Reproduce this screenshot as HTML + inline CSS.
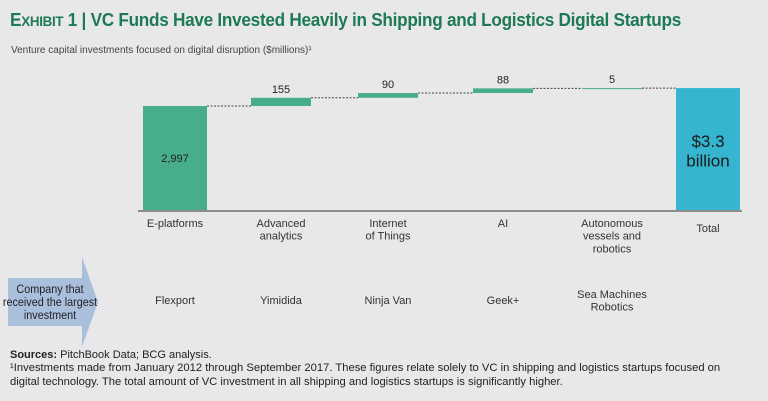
<!DOCTYPE html>
<html><head><meta charset="utf-8"><style>
body{margin:0;background:#e8e8ea;font-family:"Liberation Sans",sans-serif;}
#wrap{position:relative;width:768px;height:401px;overflow:hidden;background:#e8e8ea;}
.t{position:absolute;white-space:nowrap;color:#333;}
</style></head><body>
<div id="wrap">
<div class="t" style="left:10px;top:10px;font-size:18px;font-weight:bold;color:#1e7a55;letter-spacing:-0.3px;transform:scaleX(0.955);transform-origin:left top">E<span style="font-size:14px">XHIBIT</span> 1 | VC Funds Have Invested Heavily in Shipping and Logistics Digital Startups</div>
<div class="t" style="left:11px;top:45px;font-size:10px;color:#444">Venture capital investments focused on digital disruption ($millions)¹</div>
<svg id="chart" width="768" height="401" style="position:absolute;left:0;top:0"></svg>
<div class="t" style="left:10px;top:349px;font-size:11px;color:#222"><b>Sources:</b> PitchBook Data; BCG analysis.</div>
<div class="t" style="left:10px;top:362px;font-size:11px;color:#222;line-height:13.5px;transform:scaleX(1.02);transform-origin:left top">¹Investments made from January 2012 through September 2017. These figures relate solely to VC in shipping and logistics startups focused on<br>digital technology. The total amount of VC investment in all shipping and logistics startups is significantly higher.</div>
</div>
<script>
const categories=["E-platforms","Advanced\nanalytics","Internet\nof Things","AI","Autonomous\nvessels and\nrobotics","Total"];
const values=[2997,155,90,88,5];
const valueLabels=["2,997","155","90","88","5"];
const companies=["Flexport","Yimidida","Ninja Van","Geek+","Sea Machines\nRobotics"];
const NS="http://www.w3.org/2000/svg";
const svg=document.getElementById('chart');
const centers=[175,281,388,503,612,708];
const barW=[64,60,60,60,60,64];
const base=210;
function y(v){return 106-(v-values[0])*0.053;}
function mk(t,a){const e=document.createElementNS(NS,t);for(const k in a)e.setAttribute(k,a[k]);svg.appendChild(e);return e;}
function txt(s,x,yy,size,fill,nm,weight){const lines=s.split("\n");lines.forEach((l,i)=>{const e=mk('text',{x:x,y:yy+i*size*1.15,'font-size':size,'text-anchor':'middle',fill:fill,'font-family':'"Liberation Sans",sans-serif','font-weight':weight||'normal'});e.textContent=l;

});}
let cum=0;
values.forEach((v,i)=>{
  const start=cum;cum+=v;
  const top=y(cum), bot=i===0?base:y(start);
  const r=mk('rect',{x:centers[i]-barW[i]/2,y:top,width:barW[i],height:Math.max(1,bot-top),fill:'#48ad8c'});
  
  
  if(i===0) txt(valueLabels[i],centers[i],162,11,'#222','value-label');
  else txt(valueLabels[i],centers[i],top-5,11,'#222','value-label');
  const nx=i<values.length-1?centers[i+1]-barW[i+1]/2:centers[5]-barW[5]/2;
  const l=mk('line',{x1:centers[i]+barW[i]/2,x2:nx,y1:top,y2:top,stroke:'#444','stroke-width':1,'stroke-dasharray':'2,1.5'});
  
  
});
const tt=y(cum);
const tr=mk('rect',{x:centers[5]-barW[5]/2,y:tt,width:barW[5],height:base-tt,fill:'#35b5cf'});


txt("$3.3\nbillion",centers[5],147,17,'#1a1a1a','total-label');
const ax=mk('line',{x1:138,x2:742,y1:base+1,y2:base+1,stroke:'#555','stroke-width':1.2});


categories.forEach((c,i)=>txt(c,centers[i],i===5?232:227,11,'#333','category-label'));
companies.forEach((c,i)=>txt(c,centers[i],c.includes("\n")?298:304,11,'#333','company-label'));
const ar=mk('polygon',{points:'8,278 82,278 82,257 98,302 82,347 82,326 8,326',fill:'#a9bfdc'});


const g=mk('g',{transform:'translate(50,0) scale(0.9,1)'});


["Company that","received the largest","investment"].forEach((l,i)=>{const e=document.createElementNS(NS,'text');
e.setAttribute('x',0);e.setAttribute('y',293+i*13);e.setAttribute('font-size',12);e.setAttribute('text-anchor','middle');e.setAttribute('fill','#222');e.setAttribute('font-family','"Liberation Sans",sans-serif');e.textContent=l;


g.appendChild(e);});
</script>
</body></html>
